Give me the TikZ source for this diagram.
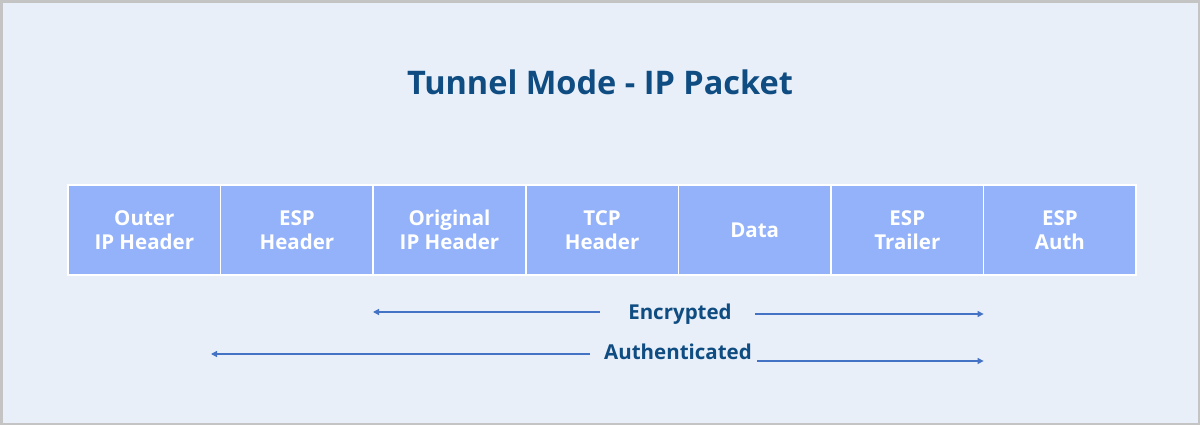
\documentclass[tikz,border=0pt]{standalone}
\usepackage{fontspec}
\setmainfont{Open Sans}
\usetikzlibrary{arrows.meta}
\definecolor{bgc}{HTML}{E8EFF9}
\definecolor{framec}{HTML}{C4C4C4}
\definecolor{cellc}{HTML}{93B2FA}
\definecolor{titlec}{HTML}{0F4C81}
\definecolor{arrowc}{HTML}{4472C4}
\tikzset{
  cell/.style={draw=white, line width=1.5pt, fill=cellc, minimum width=152.6pt, minimum height=90pt, inner sep=0pt, outer sep=0pt, anchor=north west, text=white, font=\bfseries\fontsize{20.5}{24.5}\selectfont, align=center},
  lbl/.style={text=titlec, font=\bfseries\fontsize{20.5}{24}\selectfont, inner sep=0pt},
  arr/.style={draw=arrowc, line width=1.2pt, -{Triangle[length=6pt,width=6pt]}},
}
\begin{document}
\begin{tikzpicture}[x=1pt,y=-1pt]
\fill[framec] (0,0) rectangle (1200,425);
\fill[bgc] (3,3) rectangle (1198,423);
\useasboundingbox (0,0) rectangle (1200,425);
\node[text=titlec, font=\bfseries\fontsize{32.5}{38}\selectfont, inner sep=0pt] (title) at (600,82) {Tunnel Mode - IP Packet};
\node[cell] (c1) at (68,185) {Outer\\IP Header};
\node[cell] (c2) at (c1.north east) {ESP\\Header};
\node[cell] (c3) at (c2.north east) {Original\\IP Header};
\node[cell] (c4) at (c3.north east) {TCP\\Header};
\node[cell] (c5) at (c4.north east) {Data};
\node[cell] (c6) at (c5.north east) {ESP\\Trailer};
\node[cell] (c7) at (c6.north east) {ESP\\Auth};
\node[lbl] (enc) at (680,314) {Encrypted};
\node[lbl] (auth) at (678,352) {Authenticated};
\coordinate (eL) at (600,312);
\coordinate (eLt) at (373,312);
\coordinate (eR) at (755,314);
\coordinate (aL) at (590,354);
\coordinate (aLt) at (211,354);
\coordinate (aR) at (757,361);
\draw[arr] (eL) -- (eLt);
\draw[arr] (eR) -- (eR -| c7.north west);
\draw[arr] (aL) -- (aLt);
\draw[arr] (aR) -- (aR -| c7.north west);
\end{tikzpicture}
\end{document}
